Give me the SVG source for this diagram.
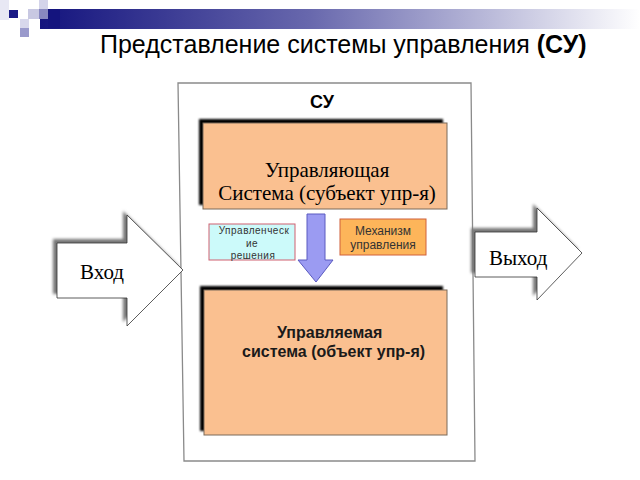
<svg xmlns="http://www.w3.org/2000/svg" width="640" height="480" viewBox="0 0 640 480">
<style>
.sans{font-family:"Liberation Sans",Arial,sans-serif}
.serif{font-family:"Liberation Serif","Times New Roman",serif}
.box{fill:#FAC090;stroke:#7a6a5a;stroke-width:1}
.shadow{fill:#000}
.big{fill:#fff;stroke:#333;stroke-width:0.8}
.frame{fill:#fff;stroke:#8a8a8a;stroke-width:1.3}
</style>
<defs>
<linearGradient id="band" x1="0" y1="0" x2="1" y2="0">
<stop offset="0" stop-color="#14147e"/>
<stop offset="0.45" stop-color="#6868ad"/>
<stop offset="1" stop-color="#ffffff"/>
</linearGradient>
<filter id="blur1" x="-10%" y="-10%" width="120%" height="120%"><feGaussianBlur stdDeviation="0.8"/></filter>
<filter id="blur2" x="-20%" y="-20%" width="140%" height="140%"><feGaussianBlur stdDeviation="1.8"/></filter>
</defs>
<rect width="640" height="480" fill="#fff"/>
<g id="header">
<rect x="40" y="9" width="600" height="20" fill="url(#band)"/>
<rect x="0" y="0" width="9" height="20" fill="#e8e8f4"/>
<rect x="9" y="10" width="9" height="8" fill="#1a1a86"/>
<rect x="39" y="0" width="9" height="9" fill="#d4d4ea"/>
<rect x="28" y="9" width="11" height="10" fill="#c8c8e2"/>
<rect x="39" y="9" width="9" height="10" fill="#8888c0"/>
<rect x="20" y="19" width="9" height="9" fill="#d8d8ec"/>
<rect x="20" y="28" width="9" height="9" fill="#9a9acc"/>
<rect x="48" y="9" width="12" height="19" fill="#14147e"/>
</g>
<g id="title">
<text x="100" y="53" class="sans" font-size="25" fill="#000">Представление системы управления <tspan font-weight="bold">(СУ)</tspan></text>
</g>
<g id="su-frame">
<path class="frame" d="M178,83 L471,83 L475,461 L184,461 Z"/>
<text x="322" y="108" class="sans" font-size="18" font-weight="bold" text-anchor="middle">СУ</text>
</g>
<g id="input">
<path d="M53,239 H123 V211 L179,266 L123,322 V294 H53 Z" fill="#777" filter="url(#blur2)"/>
<path class="big" d="M57,243 H127 V215 L183,270 L127,326 V298 H57 Z"/>
<text x="80" y="279" class="serif" font-size="21">Вход</text>
</g>
<g id="output">
<path d="M471,228 H533 V204 L578,249 L533,296 V273 H471 Z" fill="#777" filter="url(#blur2)"/>
<path class="big" d="M475,232 H537 V208 L582,253 L537,300 V277 H475 Z"/>
<text x="489" y="265" class="serif" font-size="21">Выход</text>
</g>
<g id="control-system">
<rect class="shadow" x="199" y="119" width="244" height="86" filter="url(#blur1)"/>
<rect class="box" x="203" y="123" width="244" height="86"/>
<text class="serif" font-size="21" text-anchor="middle"><tspan x="327" y="177">Управляющая</tspan><tspan x="327" y="200">Система (субъект упр-я)</tspan></text>
</g>
<g id="managed-system">
<rect class="shadow" x="200" y="286" width="243" height="145" filter="url(#blur1)"/>
<rect class="box" x="204" y="290" width="243" height="145"/>
<text class="sans" font-size="16" font-weight="bold" fill="#1a1a1a"><tspan x="277" y="338">Управляемая</tspan><tspan x="242" y="357">система (объект упр-я)</tspan></text>
</g>
<g id="connectors">
<path d="M307,214 H325 V260 H333 L316,282 L298,260 H307 Z" fill="#9b9bf2" stroke="#5a5ac0" stroke-width="1"/>
</g>
<g id="decisions">
<rect x="209" y="224" width="86" height="36" fill="#ccfafa" stroke="#d06070" stroke-width="1"/>
<text class="sans" font-size="10" fill="#333" text-anchor="middle" letter-spacing="0.5"><tspan x="254" y="234">Управленческ</tspan><tspan x="252" y="247">ие</tspan><tspan x="253" y="259">решения</tspan></text>
</g>
<g id="mechanism">
<rect x="340" y="219" width="86" height="36" fill="#fdb55a" stroke="#d0603a" stroke-width="1"/>
<text class="sans" font-size="12" fill="#333" text-anchor="middle"><tspan x="383" y="235">Механизм</tspan><tspan x="383" y="249">управления</tspan></text>
</g>
</svg>
